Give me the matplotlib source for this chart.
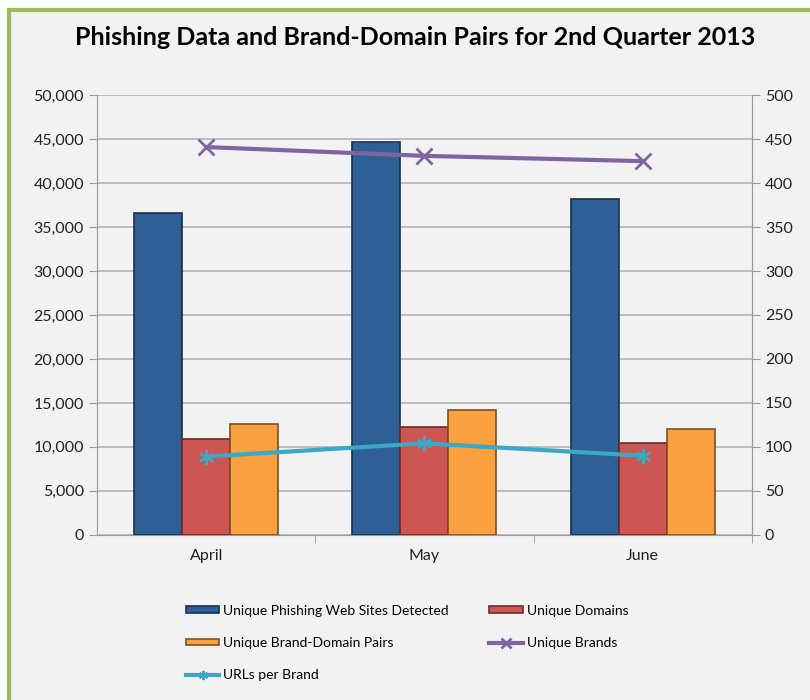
import numpy as np
import matplotlib
matplotlib.use('Agg')
from matplotlib import pyplot as plt
from matplotlib.patches import Rectangle

months = ['April', 'May', 'June']
sites = [36600, 44650, 38200]
domains = [10900, 12300, 10450]
pairs = [12600, 14250, 12050]
brands = [441, 431, 425]
urls_per_brand = [89, 104, 90]

left_ticks = np.arange(0, 50001, 5000)
right_ticks = np.arange(0, 501, 50)

plt.rcParams['font.family'] = ['Lato', 'DejaVu Sans']

fig = plt.figure(figsize=(8.1, 7), dpi=100)
fig.patch.set_facecolor('white')

# outer chart frame (light gray with green border)
frame = Rectangle((0.011, -0.01), 1.02, 0.996, transform=fig.transFigure,
                  facecolor='#f2f2f2', edgecolor='#9bbb59', linewidth=3, zorder=-10)
fig.patches.append(frame)

ax = fig.add_axes([0.12, 0.236, 0.808, 0.628])
ax.set_facecolor('#f2f2f2')

x = np.arange(len(months))
w = 0.22
series = [(sites, '#2e6096', '#17304c', 'Unique Phishing Web Sites Detected'),
          (domains, '#cd5552', '#6e2a29', 'Unique Domains'),
          (pairs, '#f9a040', '#7d5020', 'Unique Brand-Domain Pairs')]
bars = []
for i, (vals, fc, ec, lab) in enumerate(series):
    b = ax.bar(x + (i - 1) * w, vals, w, color=fc, edgecolor=ec, linewidth=1.2,
               label=lab, zorder=3)
    bars.append(b)

ax.set_xlim(-0.5, 2.5)
ax.set_ylim(0, 50000)
ax.set_yticks(left_ticks)
ax.set_yticklabels([f'{v:,}' for v in left_ticks])
ax.set_xticks(x)
ax.set_xticklabels(months)
ax.set_xticks([0.5, 1.5, 2.5], minor=True)
ax.tick_params(axis='x', which='major', length=0, pad=10, labelsize=11.5, colors='#222222')
ax.tick_params(axis='x', which='minor', length=6, color='#999999', direction='out')
ax.tick_params(axis='y', length=6, color='#999999', labelsize=11.5, labelcolor='#222222')
ax.grid(axis='y', color='#b3b3b3', linewidth=1.2, zorder=0)
ax.set_axisbelow(True)
ax.spines['top'].set_visible(False)
for s in ['left', 'right', 'bottom']:
    ax.spines[s].set_color('#999999')

ax2 = ax.twinx()
ax2.set_ylim(0, 500)
ax2.set_yticks(right_ticks)
ax2.tick_params(axis='y', length=6, color='#999999', labelsize=11.5, labelcolor='#222222')
for s in ['top', 'left', 'bottom']:
    ax2.spines[s].set_visible(False)
ax2.spines['right'].set_color('#999999')

l1, = ax2.plot(x, brands, color='#8064a2', linewidth=3, marker='x', markersize=11,
               markeredgewidth=2, label='Unique Brands', zorder=5)
l2, = ax2.plot(x, urls_per_brand, color='#3aa8c6', linewidth=3, marker=(6, 2, 0),
               markersize=11, markeredgewidth=1.6, label='URLs per Brand', zorder=5)

fig.text(0.513, 0.946, 'Phishing Data and Brand-Domain Pairs for 2nd Quarter 2013',
         ha='center', va='center', fontsize=18, fontweight='bold', color='black')

# row-major order in a 2-column legend: column 1 then column 2
order = [bars[0], bars[2], l2, bars[1], l1]
fig.legend(order, [h.get_label() for h in order],
           loc='upper left', bbox_to_anchor=(0.214, 0.154), ncol=2, frameon=False,
           fontsize=10, handlelength=2.4, handleheight=0.35, columnspacing=2.9,
           labelspacing=1.45, handletextpad=0.3, markerscale=0.6)

fig.savefig('out.png', dpi=100, facecolor=fig.get_facecolor())
